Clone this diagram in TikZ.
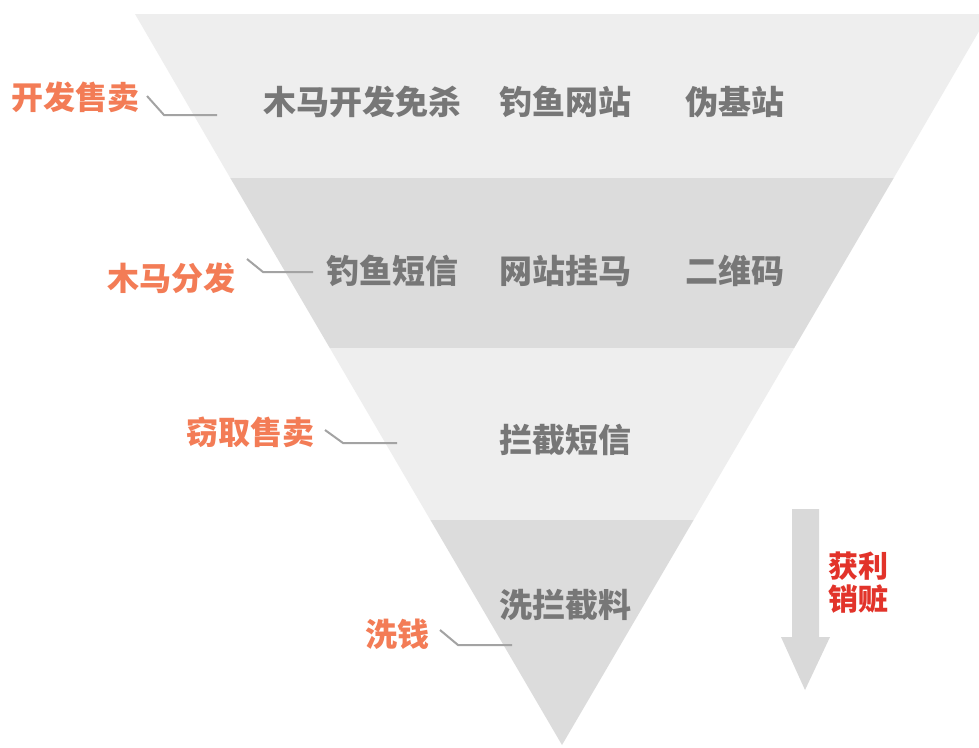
\documentclass[tikz,border=0pt]{standalone}
\usepackage{fontspec}
\newfontfamily\cjk{Noto Sans CJK SC}[UprightFont={* Black},BoldFont={* Black}]
\definecolor{bandlight}{HTML}{EEEEEE}
\definecolor{banddark}{HTML}{DCDCDC}
\definecolor{txtgray}{HTML}{777777}
\definecolor{lblorange}{HTML}{F37C56}
\definecolor{lblred}{HTML}{E2332A}
\definecolor{leadgray}{HTML}{A3A3A3}
\definecolor{arrowgray}{HTML}{D9D9D9}
\tikzset{
  item/.style={inner sep=0pt, text=txtgray, font=\cjk\fontsize{33}{36}\selectfont},
  lbl/.style={inner sep=0pt, text=lblorange, font=\cjk\fontsize{32}{35}\selectfont},
  redlbl/.style={inner sep=0pt, text=lblred, align=center, font=\cjk\fontsize{30}{33}\selectfont},
  lead/.style={draw=leadgray, line width=2pt}
}
\begin{document}
\begin{tikzpicture}[x=1pt,y=-1pt]
\useasboundingbox (0,0) rectangle (979,747);
\fill[white] (0,0) rectangle (979,747);
\begin{scope}
\clip (0,0) rectangle (979,747);
% bands
\fill[bandlight] (135,14) -- (989,14) -- (893.7,178) -- (230.3,178) -- cycle;
\fill[banddark] (230.3,178) -- (893.7,178) -- (794.2,348) -- (329.8,348) -- cycle;
\fill[bandlight] (329.8,348) -- (794.2,348) -- (693.6,520) -- (430.4,520) -- cycle;
\fill[banddark] (430.4,520) -- (693.6,520) -- (562,745) -- cycle;
\end{scope}
% items
\node[item] (t1) at (362,102) {木马开发免杀};
\node[item] (t2) at (565,102) {钓鱼网站};
\node[item] (t3) at (735,102) {伪基站};
\node[item] (t4) at (392,271) {钓鱼短信};
\node[item] (t5) at (565,271) {网站挂马};
\node[item] (t6) at (735,271) {二维码};
\node[item] (t7) at (565,440) {拦截短信};
\node[item] (t8) at (565,605) {洗拦截料};
% labels
\node[lbl] (l1) at (75,97) {开发售卖};
\node[lbl] (l2) at (171,278) {木马分发};
\node[lbl] (l3) at (250,432) {窃取售卖};
\node[lbl] (l4) at (397,634) {洗钱};
% leader lines
\coordinate (a1) at (147,96); \coordinate (b1) at (164,115); \coordinate (c1) at (217,115);
\coordinate (a2) at (247,259); \coordinate (b2) at (263,272); \coordinate (c2) at (313,272);
\coordinate (a3) at (325,430); \coordinate (b3) at (343,443); \coordinate (c3) at (397,443);
\coordinate (a4) at (440,630); \coordinate (b4) at (458,645); \coordinate (c4) at (512,645);
\draw[lead] (a1) -- (b1) -- (c1);
\draw[lead] (a2) -- (b2) -- (c2);
\draw[lead] (a3) -- (b3) -- (c3);
\draw[lead] (a4) -- (b4) -- (c4);
% arrow
\fill[arrowgray] (792,509) -- (819,509) -- (819,637) -- (830,637) -- (805,690) -- (781,637) -- (792,637) -- cycle;
\node[redlbl] (profit) at (858,583) {获利\\销赃};
\end{tikzpicture}
\end{document}
